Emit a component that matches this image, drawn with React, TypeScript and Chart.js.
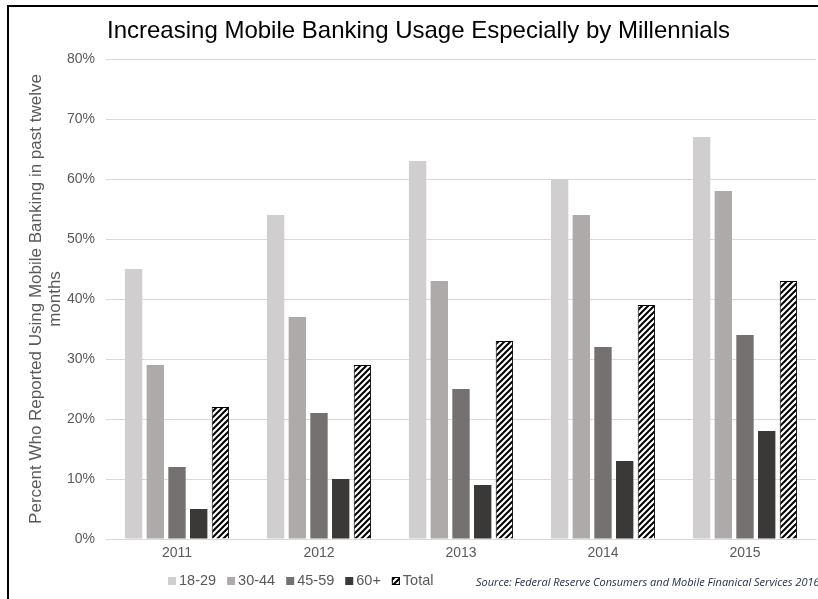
import React, { useEffect, useRef } from "react";
import { Chart, registerables } from "chart.js";

Chart.register(...registerables);

const chartTitle = "Increasing Mobile Banking Usage Especially by Millennials";
const yAxisTitle = ["Percent Who Reported Using Mobile Banking in past twelve", "months"];
const sourceNote = "Source: Federal Reserve Consumers and Mobile Finanical Services 2016";

const categories = ["2011", "2012", "2013", "2014", "2015"];
const seriesNames = ["18-29", "30-44", "45-59", "60+", "Total"];
const age18to29 = [45, 54, 63, 60, 67];
const age30to44 = [29, 37, 43, 54, 58];
const age45to59 = [12, 21, 25, 32, 34];
const age60plus = [5, 10, 9, 13, 18];
const totalAll = [22, 29, 33, 39, 43];
const yMin = 0;
const yMax = 80;
const yStep = 10;

const seriesColors = ["#d0cece", "#aeaaaa", "#767171", "#3b3838"];

function makeHatch(): CanvasPattern | string {
  const c = document.createElement("canvas");
  c.width = 6;
  c.height = 6;
  const g = c.getContext("2d");
  if (!g) return "#fff";
  g.fillStyle = "#ffffff";
  g.fillRect(0, 0, 6, 6);
  g.strokeStyle = "#000000";
  g.lineWidth = 2;
  g.beginPath();
  g.moveTo(-1, 7);
  g.lineTo(7, -1);
  g.moveTo(-4, 4);
  g.lineTo(4, -4);
  g.moveTo(2, 10);
  g.lineTo(10, 2);
  g.stroke();
  const p = g.createPattern(c, "repeat");
  return p || "#fff";
}

const FONT = "'Liberation Sans', Arial, sans-serif";

const overlayPlugin = {
  id: "overlay",
  afterDraw(chart: any) {
    const ctx = chart.ctx as CanvasRenderingContext2D;
    ctx.save();
    // title
    ctx.fillStyle = "#000000";
    ctx.font = `24px ${FONT}`;
    ctx.textAlign = "center";
    ctx.textBaseline = "middle";
    ctx.fillText(chartTitle, 418.5, 31);

    // legend
    ctx.font = `14.5px ${FONT}`;
    ctx.textAlign = "left";
    ctx.textBaseline = "middle";
    let x = 168;
    const yc = 581;
    chart.data.datasets.forEach((ds: any) => {
      ctx.fillStyle = ds.backgroundColor;
      ctx.fillRect(x, yc - 4, 8, 8);
      if (ds.borderWidth) {
        ctx.strokeStyle = "#000";
        ctx.lineWidth = 1;
        ctx.strokeRect(x + 0.5, yc - 3.5, 7, 7);
      }
      ctx.fillStyle = "#595959";
      ctx.fillText(ds.label, x + 11, yc);
      x += 11 + ctx.measureText(ds.label).width + 11;
    });

    // source
    ctx.fillStyle = "#1f2a44";
    ctx.font = `italic 11px 'Open Sans', ${FONT}`;
    ctx.fillText(sourceNote, 476, 583, 344);
    ctx.restore();
  },
};

export default function App() {
  const ref = useRef<HTMLCanvasElement>(null);

  useEffect(() => {
    if (!ref.current) return;
    const hatch = makeHatch();
    const seriesValues = [age18to29, age30to44, age45to59, age60plus];
    const datasets: any[] = seriesValues.map((vals, i) => ({
      label: seriesNames[i],
      data: vals,
      backgroundColor: seriesColors[i],
      borderWidth: 0,
    }));
    datasets.push({
      label: seriesNames[4],
      data: totalAll,
      backgroundColor: hatch,
      borderColor: "#000000",
      borderWidth: 1,
    });

    const chart = new Chart(ref.current, {
      type: "bar",
      data: { labels: categories, datasets },
      options: {
        animation: false,
        responsive: false,
        maintainAspectRatio: false,
        devicePixelRatio: 1,
        layout: { padding: { top: 59, right: 2, bottom: 0, left: 0 } },
        datasets: {
          bar: { categoryPercentage: 0.764, barPercentage: 0.8 },
        },
        plugins: {
          legend: { display: false },
          title: { display: false },
          tooltip: { enabled: false },
        },
        scales: {
          x: {
            grid: { display: false, drawTicks: false },
            border: { display: true, color: "#d9d9d9", width: 1 },
            ticks: {
              color: "#595959",
              font: { family: FONT, size: 14 },
              padding: 6,
            },
            afterFit(scale: any) {
              scale.height = 60;
            },
          },
          y: {
            min: yMin,
            max: yMax,
            grid: { color: "#d9d9d9", lineWidth: 1, drawTicks: false },
            border: { display: false },
            ticks: {
              stepSize: yStep,
              color: "#595959",
              font: { family: FONT, size: 14 },
              padding: 11,
              callback: (v: any) => `${v}%`,
            },
            title: {
              display: true,
              text: yAxisTitle,
              color: "#595959",
              font: { family: FONT, size: 17, lineHeight: 1.1 },
              padding: { top: 27, bottom: 0 },
            },
            afterFit(scale: any) {
              scale.width = 106;
            },
          },
        },
      },
      plugins: [overlayPlugin],
    });
    return () => chart.destroy();
  }, []);

  return (
    <div
      style={{
        position: "fixed",
        left: 0,
        top: 0,
        width: 818,
        height: 599,
        overflow: "hidden",
        background: "#ffffff",
      }}
    >
      <canvas ref={ref} width={818} height={599} style={{ display: "block", width: 818, height: 599 }} />
      <div
        style={{
          position: "absolute",
          left: 7,
          top: 5,
          width: 830,
          height: 620,
          borderLeft: "2px solid #000",
          borderTop: "2px solid #000",
          pointerEvents: "none",
        }}
      />
    </div>
  );
}
